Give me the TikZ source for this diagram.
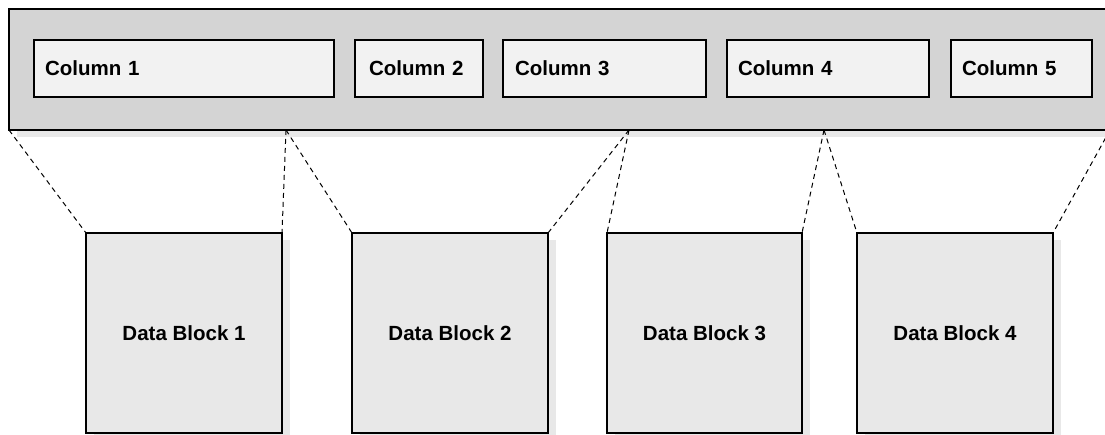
\documentclass[tikz,border=0pt]{standalone}
\usepackage{fontspec}
\setmainfont{Liberation Sans}
\usetikzlibrary{shadows}
\definecolor{barfill}{HTML}{D4D4D4}
\definecolor{colfill}{HTML}{F2F2F2}
\definecolor{blockfill}{HTML}{E8E8E8}
\definecolor{shadowc}{HTML}{E8E8E8}
\begin{document}
\begin{tikzpicture}[x=1pt,y=-1pt,
  box/.style={draw=black,line width=2pt,inner sep=0pt,outer sep=0pt,anchor=north west},
  shadowed/.style={general shadow={shadow xshift=8pt,shadow yshift=-7pt,fill=shadowc}},
  barbox/.style={box,shadowed,fill=barfill,minimum height=121pt},
  colbox/.style={box,fill=colfill,minimum height=57pt,inner xsep=11pt,align=left,
     font=\fontsize{20.5}{24}\selectfont\bfseries},
  blockbox/.style={box,shadowed,fill=blockfill,minimum height=200pt,
     font=\fontsize{20.5}{24}\selectfont\bfseries},
  link/.style={draw=black,line width=1pt,dash pattern=on 5pt off 4pt}]
\useasboundingbox (0,0) rectangle (1105,435);
% bar
\node[barbox,minimum width=1115pt] (bar) at (9,9) {};
% columns
\node[colbox,text width=278pt] (c1) at (34,40) {Column 1};
\node[colbox,text width=106pt,inner xsep=14pt,text width=100pt] (c2) at (355,40) {Column 2};
\node[colbox,text width=181pt,inner xsep=12pt,text width=179pt] (c3) at (503,40) {Column 3};
\node[colbox,text width=180pt] (c4) at (727,40) {Column 4};
\node[colbox,text width=119pt] (c5) at (951,40) {Column 5};
% data blocks
\node[blockbox,minimum width=196pt] (b1) at (86,233) {Data Block 1};
\node[blockbox,minimum width=196pt] (b2) at (352,233) {Data Block 2};
\node[blockbox,minimum width=195pt] (b3) at (607,233) {Data Block 3};
\node[blockbox,minimum width=196pt] (b4) at (857,233) {Data Block 4};
% junction points on the bar
\coordinate (j1) at (286,130);
\coordinate (j2) at (629,130);
\coordinate (j3) at (824,130);
\coordinate (j4) at (1110,130);
% links
\draw[link] (bar.south west) -- (b1.north west);
\draw[link] (j1) -- (b1.north east);
\draw[link] (j1) -- (b2.north west);
\draw[link] (j2) -- (b2.north east);
\draw[link] (j2) -- (b3.north west);
\draw[link] (j3) -- (b3.north east);
\draw[link] (j3) -- (b4.north west);
\draw[link] (j4) -- (b4.north east);
\end{tikzpicture}
\end{document}
